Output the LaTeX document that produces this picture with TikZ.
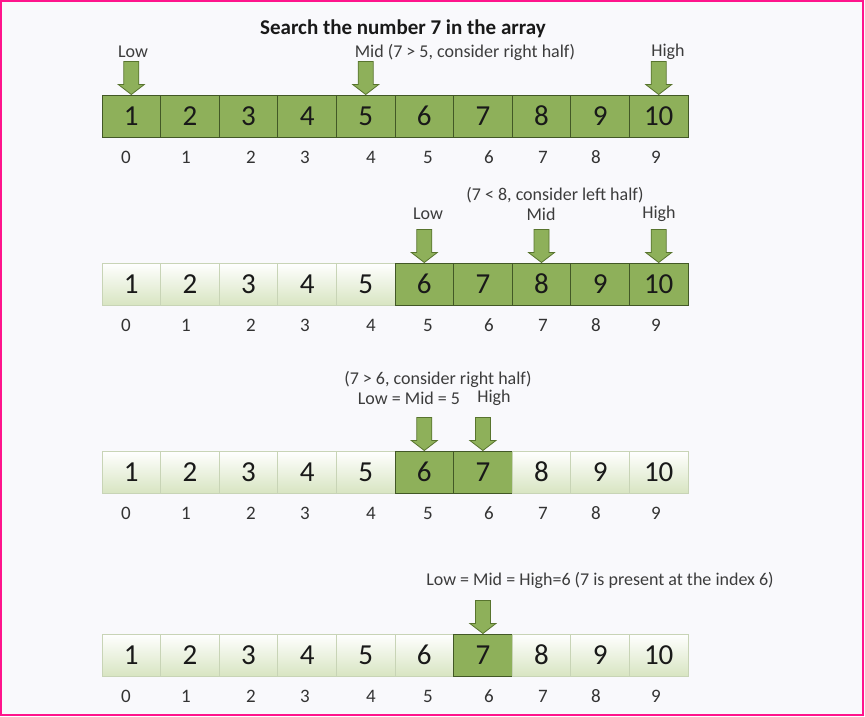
\documentclass[tikz,border=0pt]{standalone}
\usepackage{fontspec}
\setmainfont{Carlito}
\usetikzlibrary{calc}
\definecolor{cellgreen}{RGB}{142,176,90}
\definecolor{celledge}{RGB}{66,88,38}
\definecolor{palegreen}{RGB}{216,229,194}
\definecolor{paleedge}{RGB}{200,212,182}
\definecolor{arrowedge}{RGB}{88,116,46}
\definecolor{pagebg}{RGB}{249,249,252}
\definecolor{frame}{RGB}{255,20,140}
\definecolor{notegray}{RGB}{60,60,60}

\begin{document}
\begin{tikzpicture}[x=1pt,y=-1pt,
  cell/.style={minimum width=58.6pt, minimum height=42pt, inner sep=0pt,
    text=black!90, font=\fontsize{29}{29}\selectfont},
  hicell/.style={cell, fill=cellgreen, draw=celledge, line width=1pt},
  locell/.style={cell, top color=white, bottom color=palegreen, draw=paleedge, line width=0.8pt},
  idx/.style={font=\fontsize{19}{19}\selectfont, text=black!80},
  note/.style={font=\fontsize{18}{18}\selectfont, text=notegray},
  downarr/.pic={
    \draw[fill=cellgreen, draw=arrowedge, line width=0.8pt]
      (0,0) -- (-13,-10) -- (-7.5,-10) -- (-7.5,-33) -- (7.5,-33)
      -- (7.5,-10) -- (13,-10) -- cycle;
  }]

  \useasboundingbox (0,0) rectangle (865,716);
  \fill[pagebg] (0,0) rectangle (865,716);
  \draw[frame, line width=2pt] (1,1) rectangle (863,715);

  %--- the four rows of the array ---
  \foreach \r/\y/\lo/\hi in {1/116/0/9, 2/284/5/9, 3/472/5/6, 4/655/6/6}{
    \foreach \i in {0,...,9}{
      \pgfmathtruncatemacro\n{\i+1}
      \ifnum\i<\lo \def\sty{locell}\else\ifnum\i>\hi \def\sty{locell}\else\def\sty{hicell}\fi\fi
      \node[\sty] (c\r\i) at ({131.3+58.6*\i},\y) {\n};
    }
    \foreach \i/\x in {0/126,1/186,2/251,3/305,4/371,5/428,6/489,7/543,8/596,9/656}
      \node[idx] (i\r\i) at (\x,\y+41) {\i};
  }

  %--- step 1 ---
  \node[font=\fontsize{21}{21}\selectfont\bfseries, text=black!90] (title) at (403,29) {Search the number 7 in the array};
  \node[note] (low1) at (133,52) {Low};
  \node[note] (mid1) at (465,52) {Mid (7 > 5, consider right half)};
  \node[note] (high1) at (668,52) {High};
  \pic at (c10.north) {downarr};
  \pic at (c14.north) {downarr};
  \pic at (c19.north) {downarr};

  %--- step 2 ---
  \node[note] (why2) at (555,195) {(7 < 8, consider left half)};
  \node[note] (low2) at (428,214) {Low};
  \node[note] (mid2) at (541,214) {Mid};
  \node[note] (high2) at (659,214) {High};
  \pic at (c25.north) {downarr};
  \pic at (c27.north) {downarr};
  \pic at (c29.north) {downarr};

  %--- step 3 ---
  \node[note] (why3) at (438,379) {(7 > 6, consider right half)};
  \node[note] (low3) at (409,398) {Low = Mid = 5};
  \node[note] (high3) at (494,398) {High};
  \pic at (c35.north) {downarr};
  \pic at (c36.north) {downarr};

  %--- step 4 ---
  \node[note] (why4) at (600,580) {Low = Mid = High=6 (7 is present at the index 6)};
  \pic at (c46.north) {downarr};

\end{tikzpicture}
\end{document}
